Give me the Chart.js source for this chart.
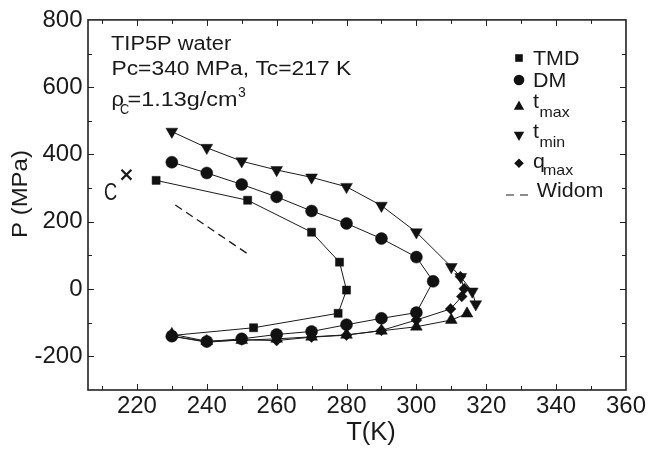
<!DOCTYPE html>
<html>
<head>
<meta charset="utf-8">
<script src="https://cdn.jsdelivr.net/npm/chart.js@4.4.0/dist/chart.umd.min.js"></script>
<style>
  html, body { margin: 0; padding: 0; background: #fff; }
  #wrap { width: 648px; height: 459px; }
</style>
</head>
<body>
<div id="wrap"><canvas id="c" width="648" height="459"></canvas></div>
<script>
// ======= Data =======
const xTicks = [220, 240, 260, 280, 300, 320, 340, 360];
const yTicks = [-200, 0, 200, 400, 600, 800];

// TMD (squares)
const tmdT = [225.5, 251.7, 270, 278, 280, 277.6, 253.4, 230];
const tmdP = [323, 264, 169, 80, -3, -72, -115, -138];

// DM (circles)
const dmT = [230, 240, 250, 260, 270, 280, 290, 300, 304.8, 300, 290, 280, 270, 260, 250, 240, 230];
const dmP = [377, 345, 311, 274, 232, 195, 150, 95, 23, -70, -87, -106, -126, -135, -148, -156, -140];

// t_max (up triangles)
const tmaxT = [230, 240, 250, 260, 270, 280, 290, 300, 310, 314.5];
const tmaxP = [-134, -155, -152, -148, -142, -136, -124, -112, -92, -73];

// t_min (down triangles)
const tminT = [230, 240, 250, 260, 270, 280, 290, 300, 310, 312.7, 316, 317];
const tminP = [468, 420, 380, 354, 332, 304, 248, 169, 66, 36, -7, -45];

// q_max (diamonds)
const qmaxT = [230, 240, 250, 260, 270, 280, 290, 300, 309.8, 313, 313.7, 312.6];
const qmaxP = [-140, -158, -151, -153, -143, -137, -123, -92, -59, -22, 1, 37];

// Widom line (dashed)
const widomT = [231, 251.5];
const widomP = [250, 106];

// critical point C
const critT = [217];
const critP = [340];

// ======= Helpers =======
const INK = '#1a1a1a';
const FONT = '"Liberation Sans", Arial, Helvetica, sans-serif';
const pts = (xs, ys) => xs.map((x, i) => ({ x, y: ys[i] }));

// draws text, returns the x where it ends
function txt(ctx, s, x, y, size, sx = 1, align = 'left') {
  ctx.save();
  ctx.translate(x, y);
  ctx.scale(sx, 1);
  ctx.font = `${size}px ${FONT}`;
  ctx.textAlign = align;
  ctx.textBaseline = 'alphabetic';
  ctx.fillStyle = INK;
  ctx.fillText(s, 0, 0);
  const w = ctx.measureText(s).width * sx;
  ctx.restore();
  return x + w;
}

function series(data, style, radius, extra = {}) {
  return Object.assign({
    data,
    showLine: true,
    borderColor: INK,
    borderWidth: 1,
    pointStyle: style,
    pointRadius: radius,
    pointBackgroundColor: '#111',
    pointBorderColor: '#111',
    pointBorderWidth: 0.5
  }, extra);
}

// ======= Frame + inward ticks on all four sides =======
const framePlugin = {
  id: 'frame',
  beforeDatasetsDraw(chart) {
    const { ctx, chartArea: a, scales: { x, y } } = chart;
    ctx.save();
    ctx.strokeStyle = '#222';
    ctx.lineWidth = 1;
    ctx.beginPath();
    for (let v = 210; v < 360; v += 10) {
      const px = Math.round(x.getPixelForValue(v)) + 0.5;
      const len = v % 20 === 0 ? 6 : 4;
      ctx.moveTo(px, a.bottom); ctx.lineTo(px, a.bottom - len);
      ctx.moveTo(px, a.top); ctx.lineTo(px, a.top + len);
    }
    for (let v = -200; v < 800; v += 100) {
      const py = Math.round(y.getPixelForValue(v)) + 0.5;
      const len = v % 200 === 0 ? 6 : 4;
      ctx.moveTo(a.left, py); ctx.lineTo(a.left + len, py);
      ctx.moveTo(a.right, py); ctx.lineTo(a.right - len, py);
    }
    ctx.stroke();
    ctx.lineWidth = 1.6;
    ctx.strokeRect(a.left, a.top, a.right - a.left, a.bottom - a.top);
    ctx.restore();
  }
};

// ======= Texts: titles, annotation, legend =======
function legendMark(ctx, kind, cx, cy) {
  ctx.save();
  ctx.fillStyle = '#111';
  ctx.beginPath();
  if (kind === 'rect') ctx.rect(cx - 3.8, cy - 3.8, 7.6, 7.6);
  if (kind === 'circle') ctx.arc(cx, cy, 5.3, 0, Math.PI * 2);
  if (kind === 'up') { ctx.moveTo(cx, cy - 6); ctx.lineTo(cx + 5.2, cy + 3.2); ctx.lineTo(cx - 5.2, cy + 3.2); ctx.closePath(); }
  if (kind === 'down') { ctx.moveTo(cx, cy + 6); ctx.lineTo(cx + 5.2, cy - 3.2); ctx.lineTo(cx - 5.2, cy - 3.2); ctx.closePath(); }
  if (kind === 'diamond') { ctx.moveTo(cx, cy - 4.8); ctx.lineTo(cx + 4.8, cy); ctx.lineTo(cx, cy + 4.8); ctx.lineTo(cx - 4.8, cy); ctx.closePath(); }
  ctx.fill();
  ctx.restore();
}

const textPlugin = {
  id: 'texts',
  afterDraw(chart) {
    const { ctx, scales: { x, y } } = chart;

    // axis titles
    txt(ctx, 'T(K)', 371, 440, 25.5, 1, 'center');
    ctx.save();
    ctx.translate(26.5, 238);
    ctx.rotate(-Math.PI / 2);
    txt(ctx, 'P (MPa)', 0, 0, 22, 1.09);
    ctx.restore();

    // annotation block
    txt(ctx, 'TIP5P water', 111, 50, 19.5, 1.12);
    txt(ctx, 'Pc=340 MPa, Tc=217 K', 111.5, 75, 19.5, 1.17);
    txt(ctx, '\u03C1', 111.5, 106, 19.5, 1.12);
    txt(ctx, 'C', 120, 114, 15, 0.85);
    const end = txt(ctx, '=1.13g/cm', 127.5, 106, 19.5, 1.2);
    txt(ctx, '3', end + 0.5, 96.5, 14, 1);

    // critical point label
    const cx = x.getPixelForValue(critT[0]);
    const cy = y.getPixelForValue(critP[0]);
    txt(ctx, 'C', cx - 22.5, cy + 25.5, 24, 0.76);

    // legend
    const mx = 519, lx = 533;
    legendMark(ctx, 'rect', mx, 58);
    txt(ctx, 'TMD', lx, 65, 19.5, 1.1);
    legendMark(ctx, 'circle', mx, 80);
    txt(ctx, 'DM', lx, 87.3, 19.5, 1.1);
    legendMark(ctx, 'up', mx, 106.5);
    txt(ctx, 't', lx, 108.3, 19.5, 1.1);
    txt(ctx, 'max', 539.5, 116.7, 14.5, 1.1);
    legendMark(ctx, 'down', mx, 135);
    txt(ctx, 't', lx, 137.7, 19.5, 1.1);
    txt(ctx, 'min', 539.5, 146.7, 14.5, 1.1);
    legendMark(ctx, 'diamond', mx, 163.3);
    txt(ctx, 'q', lx, 168.3, 19.5, 1.1);
    txt(ctx, 'max', 543, 175, 14.5, 1.1);
    ctx.save();
    ctx.strokeStyle = INK;
    ctx.lineWidth = 1.2;
    ctx.beginPath();
    ctx.moveTo(506, 195); ctx.lineTo(514, 195);
    ctx.moveTo(520, 195); ctx.lineTo(528, 195);
    ctx.stroke();
    ctx.restore();
    txt(ctx, 'Widom', 536.7, 196.7, 19.5, 1.1);
  }
};

// ======= Chart =======
const tickFont = { family: FONT, size: 24 };

new Chart(document.getElementById('c'), {
  type: 'scatter',
  data: {
    datasets: [
      series(pts(widomT, widomP), 'circle', 0, { borderDash: [8, 5], borderWidth: 1.3 }),
      series(pts(tmdT, tmdP), 'rect', 5.7),
      series(pts(tmaxT, tmaxP), 'triangle', 6.8),
      series(pts(tminT, tminP), 'triangle', 6.8, { pointRotation: 180 }),
      series(pts(dmT, dmP), 'circle', 6),
      series(pts(qmaxT, qmaxP), 'rectRot', 5.4),
      series(pts(critT, critP), 'crossRot', 7, { showLine: false, pointBorderWidth: 2.2, pointBorderColor: INK })
    ]
  },
  options: {
    responsive: false,
    animation: false,
    events: [],
    layout: { padding: { left: 0, right: 22, top: 12, bottom: 0 } },
    plugins: { legend: { display: false }, tooltip: { enabled: false } },
    scales: {
      x: {
        type: 'linear',
        min: 206, max: 360,
        grid: { display: false, drawTicks: false },
        border: { display: false },
        afterBuildTicks: s => { s.ticks = xTicks.map(v => ({ value: v })); },
        afterFit: s => { s.height = 69; },
        ticks: { font: tickFont, color: INK, padding: 2, maxRotation: 0, autoSkip: false }
      },
      y: {
        type: 'linear',
        min: -300, max: 800,
        grid: { display: false, drawTicks: false },
        border: { display: false },
        afterBuildTicks: s => { s.ticks = yTicks.map(v => ({ value: v })); },
        afterFit: s => { s.width = 88; },
        ticks: { font: tickFont, color: INK, padding: 5.5, autoSkip: false }
      }
    }
  },
  plugins: [framePlugin, textPlugin]
});
</script>
</body>
</html>
